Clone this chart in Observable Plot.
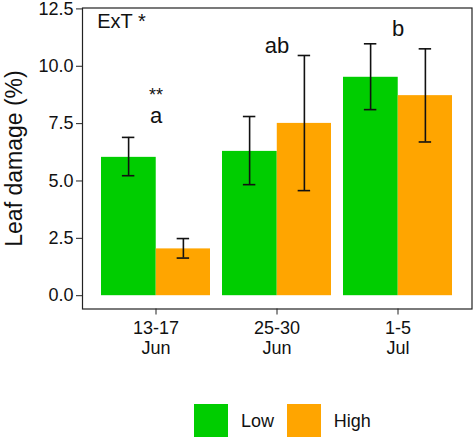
<!DOCTYPE html>
<html>
<head>
<meta charset="utf-8">
<script src="https://cdn.jsdelivr.net/npm/d3@7"></script>
<script src="https://cdn.jsdelivr.net/npm/@observablehq/plot@0.6"></script>
<style>
  html, body { margin: 0; padding: 0; background: #fff; overflow: hidden; }
  #chart { width: 475px; height: 442px; position: relative; overflow: hidden; font-family: "Liberation Sans", Arial, sans-serif; }
  #chart svg { display: block; }
  #legend { position: absolute; left: 0; top: 404px; display: flex; align-items: center; font-size: 18px; color: #111; line-height: 1; }
  #legend .sw { width: 34px; height: 33px; display: inline-block; }
  #legend .lb { display: inline-block; }
</style>
</head>
<body>
<div id="chart"></div>
<script>
// ---- data ----
const dates = ["13-17\nJun", "25-30\nJun", "1-5\nJul"];
const treatments = ["Low", "High"];
const lowMean  = [6.03, 6.29, 9.52];
const lowLo    = [5.23, 4.84, 8.11];
const lowHi    = [6.90, 7.81, 10.98];
const highMean = [2.04, 7.51, 8.72];
const highLo   = [1.64, 4.58, 6.70];
const highHi   = [2.49, 10.47, 10.76];
const letters  = ["a", "ab", "b"];
const letterY  = [7.85, 10.88, 11.63];
const stars    = ["**", "", ""];
const starY    = [8.75, 0, 0];
const yTicks   = [0, 2.5, 5, 7.5, 10, 12.5];
const panelLabel = "ExT *";
const yTitle = "Leaf damage (%)";
const colors = ["#00CD00", "#FFA500"];

// ---- tables ----
const lowRows = dates.map((d, i) => ({date: d, trt: "Low", mean: lowMean[i], lo: lowLo[i], hi: lowHi[i]}));
const highRows = dates.map((d, i) => ({date: d, trt: "High", mean: highMean[i], lo: highLo[i], hi: highHi[i]}));
const letterRows = dates.map((d, i) => ({date: d, label: letters[i], y: letterY[i]}));
const starRows = dates.map((d, i) => ({date: d, label: stars[i], y: starY[i]})).filter(r => r.label);

// ---- layout ----
const W = 475, H = 370;
const mL = 82, mR = 3.5, mT = 7.5, mB = H - 308.5;
const padIn = 0.1, padOut = 0.15;
const step = (W - mL - mR) / (dates.length - padIn + 2 * padOut);
const half = step * (1 - padIn) / 2;     // width of one bar within a group
const capW = 13;
const capIn = (half - capW) / 2;
const ebStyle = {stroke: "#111", strokeWidth: 1.6};

const plot = Plot.plot({
  width: W,
  height: H,
  marginLeft: mL,
  marginRight: mR,
  marginTop: mT,
  marginBottom: mB,
  style: {fontFamily: "\"Liberation Sans\", Arial, sans-serif", fontSize: "18px", color: "#111", background: "#fff"},
  x: {domain: dates, paddingInner: padIn, paddingOuter: padOut, label: null},
  y: {domain: [-0.58, 12.54], label: null},
  color: {domain: treatments, range: colors},
  marks: [
    Plot.barY(lowRows, {x: "date", y: "mean", fill: "trt", insetRight: half - 0.5}),
    Plot.barY(highRows, {x: "date", y: "mean", fill: "trt", insetLeft: half}),
    Plot.ruleX(lowRows, {x: "date", y1: "lo", y2: "hi", dx: -half / 2, ...ebStyle}),
    Plot.ruleX(highRows, {x: "date", y1: "lo", y2: "hi", dx: half / 2, ...ebStyle}),
    Plot.tickY(lowRows, {x: "date", y: "hi", insetLeft: capIn, insetRight: half + capIn, ...ebStyle}),
    Plot.tickY(lowRows, {x: "date", y: "lo", insetLeft: capIn, insetRight: half + capIn, ...ebStyle}),
    Plot.tickY(highRows, {x: "date", y: "hi", insetLeft: half + capIn, insetRight: capIn, ...ebStyle}),
    Plot.tickY(highRows, {x: "date", y: "lo", insetLeft: half + capIn, insetRight: capIn, ...ebStyle}),
    Plot.text(letterRows, {x: "date", y: "y", text: "label", fontSize: 22, fill: "#111"}),
    Plot.text(starRows, {x: "date", y: "y", text: "label", fontSize: 18, fill: "#111"}),
    Plot.frame({stroke: "#222", strokeWidth: 1.2}),
    Plot.text([panelLabel], {text: d => d, frameAnchor: "top-left", textAnchor: "start", lineAnchor: "top", dx: 14.7, dy: 6, fontSize: 20, fill: "#111"}),
    Plot.text([yTitle], {text: d => d, frameAnchor: "left", textAnchor: "middle", lineAnchor: "middle", rotate: -90, dx: -68, fontSize: 23, fill: "#111"}),
    Plot.axisY({ticks: yTicks, tickFormat: d3.format(".1f"), tickSize: 6, tickPadding: 3, fontSize: 18, stroke: "#222", fill: "#111", label: null}),
    Plot.axisX({anchor: "bottom", tickSize: 6, tickPadding: 4, fontSize: 18, lineHeight: 1.15, stroke: "#222", fill: "#111", label: null})
  ]
});
const chart = document.getElementById("chart");
chart.appendChild(plot);

// ---- legend from the plot's color scale ----
const cs = plot.scale("color");
const legend = document.createElement("div");
legend.id = "legend";
legend.style.left = "194px";
cs.domain.forEach((k, i) => {
  const sw = document.createElement("span");
  sw.className = "sw";
  sw.style.background = cs.range[i];
  sw.style.marginLeft = i === 0 ? "0px" : "12.7px";
  sw.style.marginRight = "13px";
  const lb = document.createElement("span");
  lb.className = "lb";
  lb.textContent = k;
  legend.appendChild(sw);
  legend.appendChild(lb);
});
chart.appendChild(legend);
</script>
</body>
</html>
